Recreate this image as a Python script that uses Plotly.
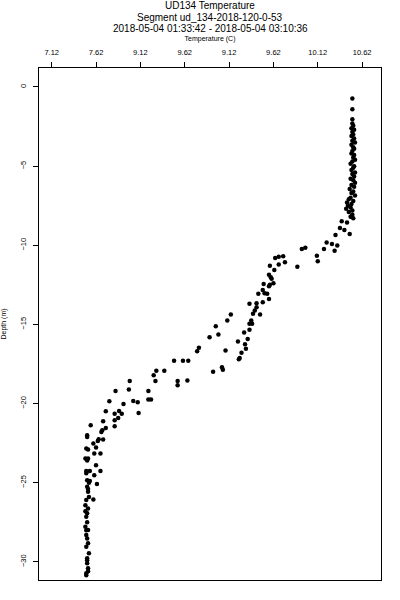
import plotly.graph_objects as go

# Temperature (C) and depth (m)
temperature = [
    10.51, 10.51, 10.51,
    10.51, 10.52, 10.50, 10.53, 10.51, 10.52, 10.50, 10.53, 10.51, 10.54, 10.50, 10.52,
    10.53, 10.51, 10.50, 10.53, 10.52, 10.54, 10.51, 10.49, 10.53, 10.52, 10.50, 10.54,
    10.51, 10.53, 10.49, 10.52, 10.54, 10.50, 10.53, 10.48, 10.52, 10.50, 10.54, 10.49,
    10.47, 10.52, 10.45, 10.50, 10.46, 10.49, 10.44, 10.51, 10.47, 10.51, 10.49, 10.52,
    10.39, 10.45, 10.37, 10.42, 10.32, 10.48, 10.22, 10.28, 10.19, 9.94, 9.98, 10.34,
    10.31, 10.11, 10.12, 9.89, 9.73, 9.68, 9.64, 9.75, 9.68, 9.58, 9.63, 9.57, 9.59,
    9.60, 9.62, 9.58, 9.51, 9.57, 9.50, 9.52, 9.45, 9.55, 9.57, 9.50, 9.43, 9.35, 9.43,
    9.41, 9.39, 9.47, 9.14, 9.10, 9.37, 9.35, 9.38, 8.97, 9.35, 9.29, 9.00, 8.90, 9.33,
    9.22, 9.30, 9.31, 8.78, 8.76, 9.08, 9.26, 9.24, 9.23, 8.50, 8.60, 8.66, 9.04, 9.05,
    8.94, 8.30, 8.39, 8.27, 8.00, 8.29, 8.54, 8.65, 8.54, 7.99, 8.21, 7.84, 8.21, 8.24,
    8.04, 8.09, 7.77, 7.93, 7.73, 8.10, 7.83, 7.88, 7.91, 7.87, 7.70, 7.83, 7.56, 7.83,
    7.73, 7.69, 7.68, 7.52, 7.65, 7.70, 7.59, 7.64, 7.51, 7.62, 7.60, 7.67, 7.50, 7.53,
    7.62, 7.51, 7.55, 7.67, 7.60, 7.52, 7.54, 7.63, 7.52, 7.53, 7.54, 7.59, 7.51, 7.50,
    7.53, 7.52, 7.51, 7.50, 7.53, 7.51, 7.52, 7.53, 7.51, 7.54, 7.52, 7.52, 7.53, 7.51,
    7.51, 7.53, 7.52, 7.51, 7.52, 7.50, 7.53, 7.55, 7.51, 7.52, 7.53, 7.52,
]
depth = [
    -0.73, -1.41, -2.04,
    -2.30, -2.45, -2.60, -2.70, -2.85, -3.00, -3.10, -3.25, -3.40, -3.50, -3.65, -3.80,
    -3.90, -4.05, -4.20, -4.30, -4.45, -4.60, -4.70, -4.85, -5.00, -5.10, -5.25, -5.40,
    -5.50, -5.65, -5.80, -5.90, -6.05, -6.20, -6.30, -6.45, -6.60, -6.70, -6.85, -7.00,
    -7.10, -7.20, -7.30, -7.40, -7.50, -7.61, -7.70, -7.80, -7.90, -8.07, -8.20, -8.30,
    -8.49, -8.56, -8.91, -9.04, -9.35, -9.29, -9.82, -9.92, -10.23, -10.23, -10.15, -10.01,
    -10.34, -10.66, -11.01, -11.35, -10.70, -10.72, -10.80, -11.08, -11.22, -11.29, -11.56, -11.87, -12.02,
    -12.12, -12.40, -12.50, -12.44, -12.59, -12.82, -13.03, -13.07, -13.07, -13.39, -13.60, -13.66, -13.70, -13.92,
    -14.12, -14.33, -14.38, -14.38, -14.75, -14.75, -14.96, -14.96, -15.11, -15.34, -15.51, -15.64, -15.81, -15.93,
    -16.08, -16.25, -16.54, -16.47, -16.69, -16.65, -16.79, -17.13, -17.21, -17.30, -17.30, -17.30, -17.70, -17.86,
    -17.99, -17.93, -17.93, -18.22, -18.58, -18.58, -18.58, -18.54, -18.85, -19.12, -19.21, -19.21, -19.75, -19.75,
    -19.84, -19.92, -19.86, -20.03, -20.49, -20.60, -20.64, -20.47, -20.64, -20.91, -21.12, -21.06, -21.37, -21.44,
    -21.54, -21.69, -21.80, -22.11, -22.26, -22.28, -22.53, -22.36, -22.84, -22.78, -23.16, -23.16, -23.47, -23.47,
    -23.90, -24.26, -24.27, -24.26, -24.53, -24.84, -25.01, -25.09, -25.26, -25.58, -25.90, -26.06, -26.10, -26.42,
    -26.63, -26.94, -27.16, -27.79, -27.99, -28.31, -28.52, -28.83, -29.05, -29.46, -29.78, -30.09, -30.41, -30.72,
    -30.85, -30.60, -29.90, -28.00, -27.50, -26.80, -25.40, -24.90, -24.40, -23.60, -22.90, -22.00,
]

x_tick_values = [7.12, 7.62, 8.12, 8.62, 9.12, 9.62, 10.12, 10.62]
x_tick_labels = ["7.12", "7.62", "9.12", "9.62", "9.12", "9.62", "10.12", "10.62"]
y_tick_values = [0, -5, -10, -15, -20, -25, -30]

title_lines = [
    "UD134 Temperature",
    "Segment ud_134-2018-120-0-53",
    "2018-05-04 01:33:42 - 2018-05-04 03:10:36",
]

FONT = "Liberation Sans, Arial, sans-serif"

fig = go.Figure(
    go.Scatter(
        x=temperature,
        y=depth,
        mode="markers",
        marker=dict(color="black", size=4.5, symbol="circle", line=dict(width=0)),
        showlegend=False,
    )
)

title_y = [1.1211, 1.0996, 1.0762]
annotations = [
    dict(
        text=line, xref="paper", yref="paper", x=0.5, y=yy,
        xanchor="center", yanchor="middle", showarrow=False,
        font=dict(family=FONT, size=10, color="black"),
    )
    for line, yy in zip(title_lines, title_y)
]

fig.update_layout(
    width=400,
    height=600,
    margin=dict(l=39, r=19, t=68, b=20, autoexpand=False),
    paper_bgcolor="white",
    plot_bgcolor="white",
    font=dict(family=FONT, color="black", size=8),
    annotations=annotations,
)

fig.update_xaxes(
    side="top",
    automargin=False,
    range=[6.977, 10.833],
    tickvals=x_tick_values,
    ticktext=x_tick_labels,
    ticks="outside",
    ticklen=5,
    ticklabelstandoff=4,
    tickcolor="black",
    showline=True,
    linecolor="black",
    linewidth=1,
    mirror=True,
    showgrid=False,
    zeroline=False,
    tickfont=dict(size=7.5),
    title=dict(text="Temperature (C)", font=dict(size=7), standoff=5),
)

fig.update_yaxes(
    automargin=False,
    range=[-31.15, 1.2],
    tickvals=y_tick_values,
    ticks="outside",
    ticklen=5,
    ticklabelstandoff=4,
    tickcolor="black",
    tickangle=-90,
    showline=True,
    linecolor="black",
    linewidth=1,
    mirror=True,
    showgrid=False,
    zeroline=False,
    tickfont=dict(size=7.5),
    title=dict(text="Depth (m)", font=dict(size=7), standoff=13),
)

# Remove the default 8px page margin so the figure fills the 400x600 window exactly.
fig.write_html(
    "out.html",
    config={"displayModeBar": False},
    post_script="document.body.style.margin='0px';",
)
